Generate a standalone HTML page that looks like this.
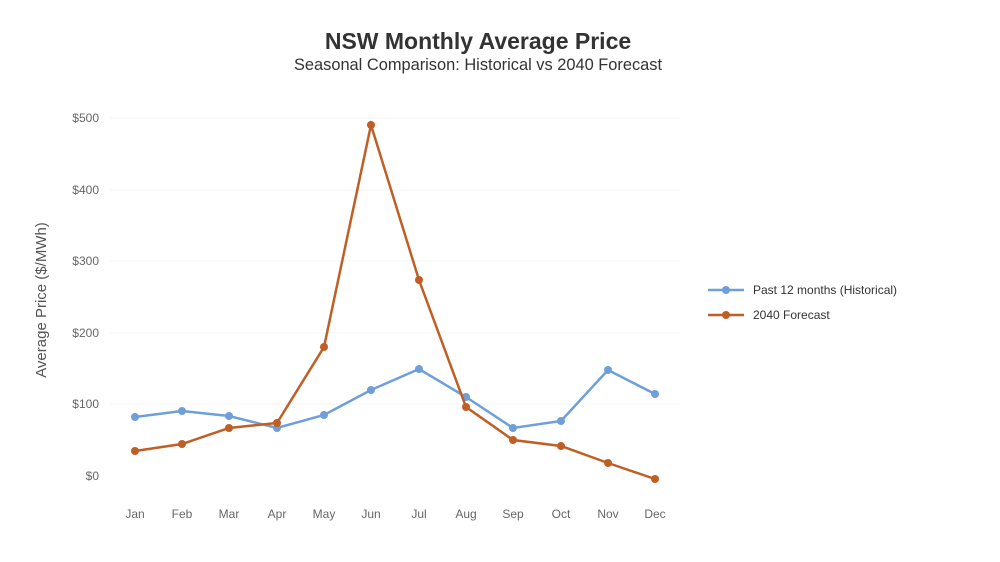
<!DOCTYPE html>
<html><head><style>body{margin:0;background:#fff;}svg{display:block;font-family:"Liberation Sans",Arial,sans-serif;}</style></head>
<body>
<svg width="1000" height="562" viewBox="0 0 1000 562">
<rect width="1000" height="562" fill="#fff"/>
<text x="478" y="49" text-anchor="middle" font-size="23" font-weight="bold" fill="#333">NSW Monthly Average Price</text>
<text x="478" y="70" text-anchor="middle" font-size="16.4" fill="#333">Seasonal Comparison: Historical vs 2040 Forecast</text>
<g stroke="#f4f4f4" stroke-width="1">
<line x1="110" x2="680" y1="118" y2="118"/><line x1="110" x2="680" y1="190" y2="190"/><line x1="110" x2="680" y1="261" y2="261"/><line x1="110" x2="680" y1="333" y2="333"/><line x1="110" x2="680" y1="404" y2="404"/>
</g>
<g font-size="12" fill="#666" text-anchor="end">
<text x="99" y="122">$500</text><text x="99" y="194">$400</text><text x="99" y="265">$300</text><text x="99" y="337">$200</text><text x="99" y="408">$100</text><text x="99" y="480">$0</text>
</g>
<text transform="translate(46,300) rotate(-90)" text-anchor="middle" font-size="15" fill="#555">Average Price ($/MWh)</text>
<g font-size="12" fill="#666" text-anchor="middle">
<text x="135" y="518">Jan</text><text x="182" y="518">Feb</text><text x="229" y="518">Mar</text><text x="277" y="518">Apr</text><text x="324" y="518">May</text><text x="371" y="518">Jun</text><text x="419" y="518">Jul</text><text x="466" y="518">Aug</text><text x="513" y="518">Sep</text><text x="561" y="518">Oct</text><text x="608" y="518">Nov</text><text x="655" y="518">Dec</text>
</g>
<polyline fill="none" stroke="#6f9fd8" stroke-width="2.5" points="135,417 182,411 229,416 277,428 324,415 371,390 419,369 466,397 513,428 561,421 608,370 655,394"/>
<g fill="#6f9fd8"><circle cx="135" cy="417" r="4"/><circle cx="182" cy="411" r="4"/><circle cx="229" cy="416" r="4"/><circle cx="277" cy="428" r="4"/><circle cx="324" cy="415" r="4"/><circle cx="371" cy="390" r="4"/><circle cx="419" cy="369" r="4"/><circle cx="466" cy="397" r="4"/><circle cx="513" cy="428" r="4"/><circle cx="561" cy="421" r="4"/><circle cx="608" cy="370" r="4"/><circle cx="655" cy="394" r="4"/></g>
<polyline fill="none" stroke="#bf5f26" stroke-width="2.5" points="135,451 182,444 229,428 277,423 324,347 371,125 419,280 466,407 513,440 561,446 608,463 655,479"/>
<g fill="#bf5f26"><circle cx="135" cy="451" r="4"/><circle cx="182" cy="444" r="4"/><circle cx="229" cy="428" r="4"/><circle cx="277" cy="423" r="4"/><circle cx="324" cy="347" r="4"/><circle cx="371" cy="125" r="4"/><circle cx="419" cy="280" r="4"/><circle cx="466" cy="407" r="4"/><circle cx="513" cy="440" r="4"/><circle cx="561" cy="446" r="4"/><circle cx="608" cy="463" r="4"/><circle cx="655" cy="479" r="4"/></g>
<line x1="708" x2="744" y1="290" y2="290" stroke="#6f9fd8" stroke-width="2.5"/><circle cx="726" cy="290" r="4" fill="#6f9fd8"/>
<text x="753" y="294" font-size="12" fill="#333">Past 12 months (Historical)</text>
<line x1="708" x2="744" y1="315" y2="315" stroke="#bf5f26" stroke-width="2.5"/><circle cx="726" cy="315" r="4" fill="#bf5f26"/>
<text x="753" y="319" font-size="12" fill="#333">2040 Forecast</text>
</svg>
</body></html>
